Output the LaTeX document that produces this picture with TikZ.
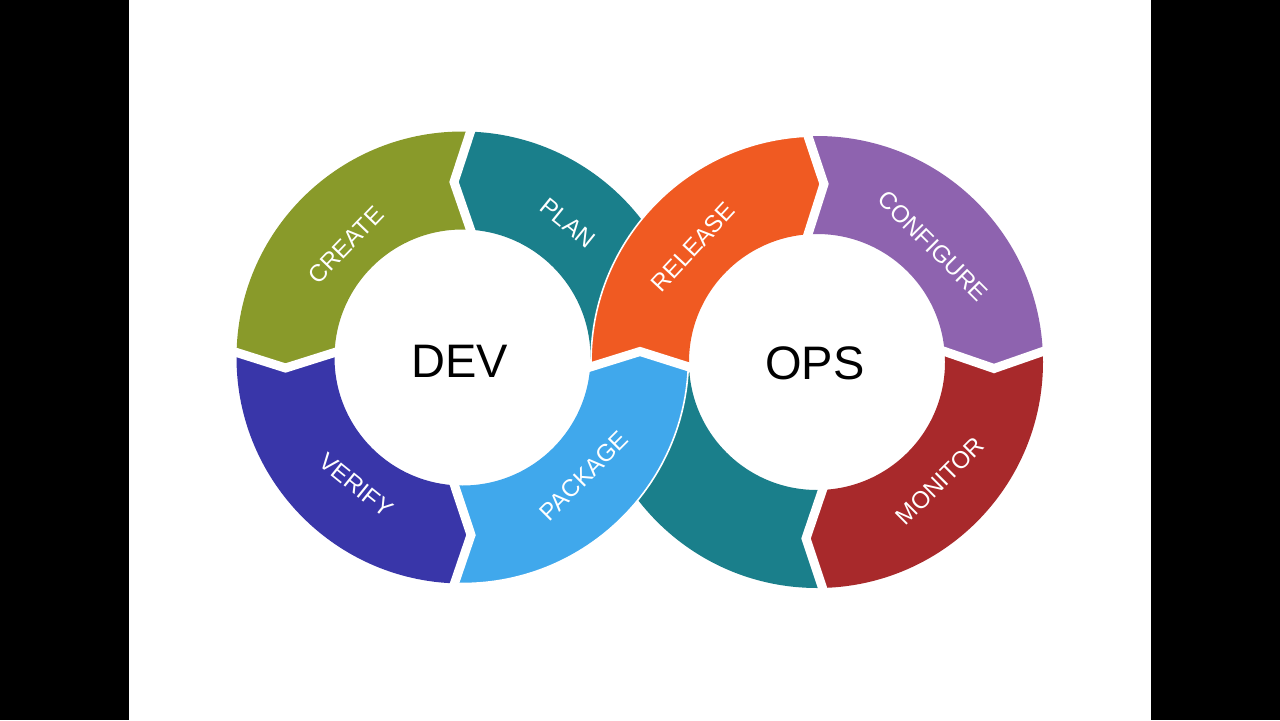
\documentclass[tikz,border=0pt]{standalone}
\usepackage{fontspec}
\setmainfont{Liberation Sans}
\definecolor{cgreen}{HTML}{899A2A}
\definecolor{cteal}{HTML}{1A7F8B}
\definecolor{cindigo}{HTML}{3936A9}
\definecolor{clblue}{HTML}{40A8EC}
\definecolor{corange}{HTML}{F05A22}
\definecolor{cpurple}{HTML}{8E63AF}
\definecolor{cred}{HTML}{A8292B}
\newcommand\ringseg[4]{%
  \begin{scope}
    \clip #3;
    \fill[#2,even odd rule] (#1) circle[radius=226] (#1) circle[radius=128];
    #4
  \end{scope}}
\begin{document}
\begin{tikzpicture}[x=0.5pt,y=0.5pt,
  gap/.style={draw=white,line width=4.5pt,line join=miter,miter limit=10},
  edgeline/.style={draw=white,line width=0.8pt},
  lbl/.style={text=white,font=\fontsize{12}{14}\selectfont},
  big/.style={text=black,font=\fontsize{23.5}{28}\selectfont}]
\useasboundingbox (0,0) rectangle (1280,720);
\fill[black] (0,0) rectangle (1280,720);
\fill[white] (129,0) rectangle (1151,720);

\coordinate (cd) at (462.5,362.5);
\coordinate (co) at (817,358);
% gap polylines: outer end, point, inner end
\coordinate (tA) at (483.7,628.7); \coordinate (tP) at (454,538);   \coordinate (tB) at (478.75,466.4);
\coordinate (lA) at (197.5,379.9); \coordinate (lP) at (285.5,352); \coordinate (lB) at (364.1,376.8);
\coordinate (bA) at (441.3,97.9);  \coordinate (bP) at (471,185);   \coordinate (bB) at (446.25,259.6);
\coordinate (xA) at (560.3,343.7); \coordinate (xP) at (640,368.5); \coordinate (xB) at (718.4,343.7);
\coordinate (otA) at (795.2,622);  \coordinate (otP) at (824,536);  \coordinate (otB) at (800,460.6);
\coordinate (orA) at (1081.8,382.1); \coordinate (orP) at (994,351.5); \coordinate (orB) at (919.9,377);
\coordinate (obA) at (835.7,92.6); \coordinate (obP) at (806,181.5); \coordinate (obB) at (830.75,254.4);

% teal band (plan + unlabeled ops part)
\ringseg{cd}{cteal}{(tA) -- (tP) -- (tB) -- (cd) -- (xA) -- (xP) -- (xB) -- (740,343.7) -- (740,700) -- (483.7,700) -- cycle}{}
\ringseg{co}{cteal}{(obA) -- (obP) -- (obB) -- (co) -- (xB) -- (xP) -- (xA) -- (540,343.7) -- (540,40) -- (835.7,40) -- cycle}{}
% dev ring
\ringseg{cd}{cgreen}{(tA) -- (tP) -- (tB) -- (cd) -- (lB) -- (lP) -- (lA) -- (150,379.9) -- (150,700) -- (483.7,700) -- cycle}{}
\ringseg{cd}{cindigo}{(lA) -- (lP) -- (lB) -- (cd) -- (bB) -- (bP) -- (bA) -- (441.3,40) -- (150,40) -- (150,379.9) -- cycle}{}
% ops ring
\ringseg{co}{cpurple}{(otA) -- (otP) -- (otB) -- (co) -- (orB) -- (orP) -- (orA) -- (1100,382.1) -- (1100,700) -- (795.2,700) -- cycle}{}
\ringseg{co}{cred}{(orA) -- (orP) -- (orB) -- (co) -- (obB) -- (obP) -- (obA) -- (835.7,40) -- (1100,40) -- (1100,382.1) -- cycle}{}
% crossing segments on top
\ringseg{co}{corange}{(xA) -- (xP) -- (xB) -- (co) -- (otB) -- (otP) -- (otA) -- (795.2,700) -- (540,700) -- (540,343.7) -- cycle}{\draw[edgeline] (co) circle[radius=226];}
\ringseg{cd}{clblue}{(bA) -- (bP) -- (bB) -- (cd) -- (xA) -- (xP) -- (xB) -- (740,343.7) -- (740,40) -- (441.3,40) -- cycle}{\draw[edgeline] (cd) circle[radius=226];}

% white chevron gaps
\draw[gap] (tA) -- (tP) -- (tB);
\draw[gap] (lA) -- (lP) -- (lB);
\draw[gap] (bA) -- (bP) -- (bB);
\draw[gap] (xA) -- (xP) -- (xB);
\draw[gap] (otA) -- (otP) -- (otB);
\draw[gap] (orA) -- (orP) -- (orB);
\draw[gap] (obA) -- (obP) -- (obB);

% labels
\node[big] (dev) at (460,359) {DEV};
\node[big] (ops) at (815,357) {OPS};
\node[lbl,rotate=46] (create) at (346,475) {CREATE};
\node[lbl,rotate=-39] (plan) at (568,497) {PLAN};
\node[lbl,rotate=-39] (verify) at (356,235) {VERIFY};
\node[lbl,rotate=45] (package) at (584,244) {PACKAGE};
\node[lbl,rotate=47] (release) at (693,473) {RELEASE};
\node[lbl,rotate=-45] (configure) at (933,474) {CONFIGURE};
\node[lbl,rotate=45] (monitor) at (940,239) {MONITOR};
\end{tikzpicture}
\end{document}
